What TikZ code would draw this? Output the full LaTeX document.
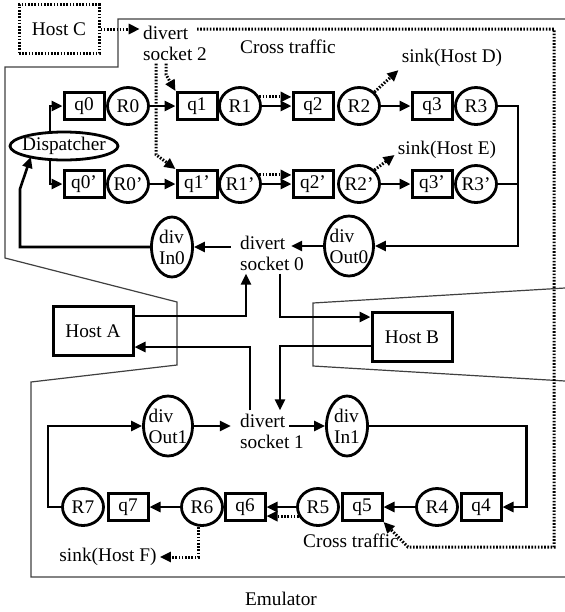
\documentclass[tikz,border=0pt]{standalone}
\usepackage{fontspec}
\setmainfont{Liberation Serif}
\usetikzlibrary{positioning,arrows.meta,shapes.geometric}

\begin{document}
\begin{tikzpicture}[x=0.5pt,y=-0.5pt,
  font=\fontsize{9.65pt}{10.5pt}\selectfont,
  queue/.style={draw, line width=1.5pt, minimum width=20pt, minimum height=13.5pt, inner sep=0pt},
  router/.style={draw, ellipse, line width=1.4pt, minimum width=20.5pt,
    minimum height=18.5pt, inner sep=0pt},
  divnode/.style={draw, ellipse, line width=1.4pt, minimum width=20.5pt,
    minimum height=30pt, inner xsep=-1pt, inner ysep=0pt, align=left},
  hostbox/.style={draw, line width=1.5pt, minimum width=40pt, minimum height=24.5pt},
  txt/.style={inner sep=1.5pt, align=left},
  wire/.style={line width=1.3pt},
  link/.style={wire, -{Triangle[length=5.5pt,width=5pt]}},
  dots/.style={dash pattern=on 0.8pt off 0.8pt},
  crosslink/.style={link, dots, line width=1.5pt},
  outline/.style={line width=0.6pt, draw=black!75}
]
\useasboundingbox (0,0) rectangle (565,612);

% emulator outline
\draw[outline] (565,19) -- (118,19) -- (118,67) -- (5,67) -- (5,258) -- (177,302)
  -- (177,365) -- (31,382) -- (31,577) -- (565,577);
\draw[outline] (565,288) -- (313,303) -- (313,366) -- (565,381);
\node (emu) at (281,599) {Emulator};

% hosts and divert sockets
\node[hostbox, dots] (hostC) at (59,29) {Host C};
\node[hostbox] (hostA) at (93,331) {Host A};
\node[hostbox] (hostB) at (412,337) {Host B};
\node[txt] (ds2) at (175,43) {divert\\socket 2};
\node[txt] (ds0) at (272,253) {divert\\socket 0};
\node[txt] (ds1) at (272,431) {divert\\socket 1};
\coordinate (ct0) at (197,29);
\node[txt] (cross1) at (288,47) {Cross traffic};
\node[txt] (cross2) at (351,541) {Cross traffic};

% upper pipes
\node[draw, ellipse, line width=1.4pt, minimum width=54pt, minimum height=14pt,
  inner xsep=-2pt, inner ysep=0pt] (disp) at (64,146) {Dispatcher};
\node[queue] (q0) at (84,106) {q0};
\node[router] (r0) at (128,106) {R0};
\node[queue] (q1) at (197,106) {q1};
\node[router] (r1) at (240,106) {R1};
\node[queue] (q2) at (313,106) {q2};
\node[router] (r2) at (359,106) {R2};
\node[queue] (q3) at (432,106) {q3};
\node[router] (r3) at (476,106) {R3};
\node[queue] (q0b) at (84,184) {q0'};
\node[router] (r0b) at (128,184) {R0'};
\node[queue] (q1b) at (197,184) {q1'};
\node[router] (r1b) at (240,184) {R1'};
\node[queue] (q2b) at (313,184) {q2'};
\node[router] (r2b) at (359,184) {R2'};
\node[queue] (q3b) at (432,184) {q3'};
\node[router] (r3b) at (476,184) {R3'};
\node[txt] (sinkD) at (452,58) {sink(Host D)};
\node[txt] (sinkE) at (447,150) {sink(Host E)};
\node[divnode] (in0) at (172,247) {div\\In0};
\node[divnode] (out0) at (349,246) {div\\Out0};

% lower pipe
\node[divnode] (out1) at (168,426) {div\\Out1};
\node[divnode] (in1) at (347,426) {div\\In1};
\node[router] (r7) at (83,507) {R7};
\node[queue] (q7) at (128,507) {q7};
\node[router] (r6) at (202,507) {R6};
\node[queue] (q6) at (245,507) {q6};
\node[router] (r5) at (318,507) {R5};
\node[queue] (q5) at (362,507) {q5};
\node[router] (r4) at (437,507) {R4};
\node[queue] (q4) at (481,507) {q4};
\node[txt] (sinkF) at (108,557) {sink(Host F)};

% cross traffic
\draw[crosslink] (hostC) -- (hostC -| ds2.west);
\draw[crosslink] ([xshift=-9.5pt]ds2.south) -- ++(0,91) -- (q1b.north west);
\draw[crosslink] ([xshift=-4.5pt]ds2.south) -- ++(0,11) -- (q1.north west);
\draw[crosslink] (ct0) -- (554,29) -- (554,547) -- (408,547) -- (q5.south east);
\draw[crosslink] (r1.25) -- (r1.25 -| q2.west);
\draw[crosslink] (r1b.25) -- (r1b.25 -| q2b.west);
\draw[crosslink] (r5.205) -- (r5.205 -| q6.east);
\draw[crosslink] (r2.north east) -- (sinkD.south west);
\draw[crosslink] (r2b.north east) -- ([yshift=-2.5pt]sinkE.west);
\draw[crosslink] ([xshift=-2pt]r6.south) |- (sinkF.east);

% main traffic
\draw[link] ([xshift=-7pt]disp.north) |- (q0.west);
\draw[link] ([xshift=-7pt]disp.south) |- (q0b.west);
\draw[link] (r0) -- (q1);
\draw[link] (r1) -- (q2);
\draw[link] (r2) -- (q3);
\draw[link] (r0b) -- (q1b);
\draw[link] (r1b) -- (q2b);
\draw[link] (r2b) -- (q3b);
\draw[link] (r3.east) -- ++(10pt,0) |- (out0);
\draw[wire] (r3b.east) -- ++(10pt,0);
\draw[link] (out0.west) -- ++(-16pt,0);
\draw[link] ([xshift=-3pt]ds0.west |- in0) -- (in0);
\draw[link] (in0.west) -| (20,189) -- ([xshift=3pt]disp.south west);
\draw[link] ([yshift=7.5pt]hostA.east) -| ([xshift=-13pt]ds0.south);
\draw[link] ([xshift=4pt]ds0.south) |- ([yshift=10pt]hostB.west);
\draw[link] ([yshift=-4.5pt]hostB.west) -| ([xshift=4pt]ds1.north);
\draw[link] ([xshift=-11pt]ds1.north) |- ([yshift=-8pt]hostA.east);
\draw[link] (out1.east) -- ++(18.5pt,0);
\draw[link] ([xshift=-18pt]in1.west) -- (in1.west);
\draw[link] (in1.east) -| ([xshift=12pt]q4.east) -- (q4.east);
\draw[link] (r4) -- (q5);
\draw[link] (r5) -- (q6);
\draw[link] (r6) -- (q7);
\draw[link] (r7.west) -- ++(-6.5pt,0) |- (out1.west);
\end{tikzpicture}
\end{document}
